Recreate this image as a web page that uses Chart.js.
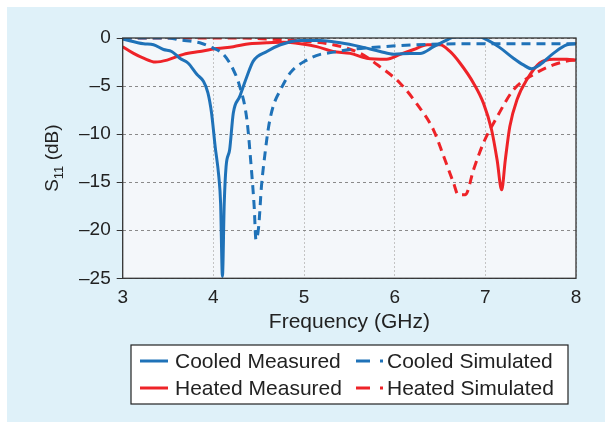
<!DOCTYPE html>
<html>
<head>
<meta charset="utf-8">
<script src="https://cdn.jsdelivr.net/npm/chart.js@4"></script>
<style>
  html, body { margin: 0; padding: 0; background: #fff; }
  #wrap { position: absolute; left: 7px; top: 7px; width: 598px; height: 415px; background: #dff1f9; }
  canvas { position: absolute; left: 0; top: 0; }
</style>
</head>
<body>
<div id="wrap"></div>
<canvas id="chart" width="605" height="422"></canvas>
<script>
"use strict";

// ---- data (frequency in GHz, S11 in dB) ----
const coolMeasF = [3.0, 3.23, 3.34, 3.45, 3.54, 3.63, 3.72, 3.82, 3.89, 3.94, 3.98, 4.02, 4.06, 4.08, 4.10, 4.12, 4.14, 4.18, 4.22, 4.29, 4.37, 4.44, 4.59, 4.74, 4.96, 5.18, 5.40, 5.62, 5.84, 5.99, 6.17, 6.28, 6.43, 6.58, 6.65, 6.80, 6.94, 7.02, 7.16, 7.31, 7.42, 7.51, 7.60, 7.75, 7.90, 8.0];
const coolMeasDb = [-0.1, -0.6, -0.7, -1.2, -1.4, -2.1, -2.6, -3.8, -4.5, -5.7, -7.8, -11.3, -14.4, -17.2, -24.8, -17.2, -13.4, -11.6, -7.8, -6.1, -4.0, -2.4, -1.4, -0.7, -0.25, -0.25, -0.5, -0.9, -1.4, -1.7, -1.6, -1.6, -0.9, -0.2, 0.1, 0.1, 0.1, -0.2, -1.0, -2.1, -2.8, -3.2, -2.8, -1.6, -0.7, -0.6];

const coolSimF = [3.0, 3.49, 3.63, 3.85, 3.96, 4.11, 4.22, 4.29, 4.37, 4.42, 4.45, 4.47, 4.50, 4.53, 4.57, 4.61, 4.66, 4.74, 4.85, 5.03, 5.18, 5.25, 5.51, 5.88, 6.24, 6.80, 8.0];
const coolSimDb = [0, 0, -0.2, -0.5, -0.9, -1.7, -3.3, -5.0, -8.5, -13.7, -17.5, -21.0, -19.6, -15.5, -12.0, -9.2, -7.1, -5.4, -3.6, -2.3, -1.7, -1.6, -1.2, -0.9, -0.7, -0.6, -0.6];

const heatMeasF = [3.0, 3.12, 3.23, 3.36, 3.49, 3.67, 3.85, 4.04, 4.22, 4.40, 4.59, 4.77, 4.96, 5.14, 5.32, 5.51, 5.69, 5.91, 6.06, 6.21, 6.36, 6.50, 6.61, 6.72, 6.87, 6.98, 7.07, 7.13, 7.18, 7.22, 7.27, 7.35, 7.46, 7.60, 7.75, 7.90, 8.0];
const heatMeasDb = [-0.9, -1.6, -2.1, -2.5, -2.3, -1.7, -1.4, -1.1, -0.9, -0.6, -0.5, -0.45, -0.6, -0.9, -1.4, -1.6, -2.1, -2.2, -1.7, -1.2, -0.7, -0.7, -1.4, -2.6, -4.7, -6.8, -9.6, -12.7, -15.8, -12.7, -9.2, -6.4, -4.3, -2.6, -2.2, -2.2, -2.3];

const heatSimF = [3.0, 4.22, 4.59, 4.96, 5.32, 5.62, 5.84, 6.06, 6.24, 6.43, 6.54, 6.65, 6.70, 6.78, 6.87, 6.98, 7.13, 7.31, 7.53, 7.75, 7.90, 8.0];
const heatSimDb = [0, 0, -0.1, -0.3, -0.7, -1.6, -3.0, -4.7, -6.8, -9.6, -12.3, -15.1, -16.3, -16.3, -13.7, -10.9, -8.2, -5.4, -3.8, -2.8, -2.4, -2.3];

const seriesLabels = ["Cooled Measured", "Cooled Simulated", "Heated Measured", "Heated Simulated"];
const xTicks = [3, 4, 5, 6, 7, 8];
const yTicks = [0, -5, -10, -15, -20, -25];

const BLUE = "#1f72b8";
const RED = "#ee2328";
const FONT = "'Liberation Sans', Arial, sans-serif";
const INK = "#222";

function pts(fs, ds) { return fs.map((f, i) => ({ x: f, y: ds[i] })); }

function line(label, data, color, dashed) {
    return {
        label, data,
        borderColor: color,
        backgroundColor: color,
        borderWidth: 3,
        borderDash: dashed ? [9, 6] : [],
        pointRadius: 0,
        tension: 0.3,
        cubicInterpolationMode: "monotone",
        fill: false
    };
}

// plot background + frame + y title + legend box
const decor = {
    id: "decor",
    beforeDraw(chart) {
        const { ctx, chartArea: a } = chart;
        ctx.save();
        ctx.fillStyle = "#f4f7fa";
        ctx.fillRect(a.left, a.top, a.right - a.left, a.bottom - a.top);
        ctx.restore();
    },
    afterDraw(chart) {
        const { ctx, chartArea: a } = chart;
        ctx.save();
        ctx.strokeStyle = "#333";
        ctx.lineWidth = 1.3;
        ctx.strokeRect(a.left, a.top, a.right - a.left, a.bottom - a.top);

        // y title with subscript
        ctx.translate(53, (a.top + a.bottom) / 2);
        ctx.rotate(-Math.PI / 2);
        ctx.fillStyle = INK;
        ctx.textBaseline = "middle";
        const big = "19px " + FONT, small = "13px " + FONT;
        ctx.font = big; const wS = ctx.measureText("S").width, wT = ctx.measureText(" (dB)").width;
        ctx.font = small; const w11 = ctx.measureText("11").width;
        let x = -(wS + w11 + wT) / 2;
        ctx.font = big; ctx.fillText("S", x, 0); x += wS;
        ctx.font = small; ctx.fillText("11", x, 6); x += w11;
        ctx.font = big; ctx.fillText(" (dB)", x, 0);
        ctx.restore();

        // legend
        ctx.save();
        const bx = 131, by = 345, bw = 437, bh = 59;
        ctx.fillStyle = "#fff";
        ctx.fillRect(bx, by, bw, bh);
        ctx.strokeStyle = INK;
        ctx.lineWidth = 1.2;
        ctx.strokeRect(bx, by, bw, bh);
        ctx.font = "21px " + FONT;
        ctx.fillStyle = INK;
        ctx.textBaseline = "middle";
        const ds = chart.data.datasets;
        const cells = [
            { d: ds[0], x: 140, y: 361 },
            { d: ds[1], x: 356, y: 361 },
            { d: ds[2], x: 140, y: 388 },
            { d: ds[3], x: 356, y: 388 }
        ];
        cells.forEach(c => {
            ctx.strokeStyle = c.d.borderColor;
            ctx.lineWidth = 3;
            ctx.beginPath();
            if (c.d.borderDash.length) {
                ctx.moveTo(c.x, c.y); ctx.lineTo(c.x + 14, c.y);
                ctx.moveTo(c.x + 24, c.y); ctx.lineTo(c.x + 27, c.y);
            } else {
                ctx.moveTo(c.x, c.y); ctx.lineTo(c.x + 28, c.y);
            }
            ctx.stroke();
            ctx.fillText(c.d.label, c.x + (c.d.borderDash.length ? 31 : 35), c.y + 1);
        });
        ctx.restore();
    }
};

new Chart(document.getElementById("chart"), {
    type: "line",
    data: {
        datasets: [
            line(seriesLabels[0], pts(coolMeasF, coolMeasDb), BLUE, false),
            line(seriesLabels[1], pts(coolSimF, coolSimDb), BLUE, true),
            line(seriesLabels[2], pts(heatMeasF, heatMeasDb), RED, false),
            line(seriesLabels[3], pts(heatSimF, heatSimDb), RED, true)
        ]
    },
    options: {
        responsive: false,
        animation: false,
        layout: { padding: { left: 0, right: 29, top: 38, bottom: 0 } },
        plugins: { legend: { display: false }, tooltip: { enabled: false } },
        scales: {
            x: {
                type: "linear",
                min: 3, max: 8,
                afterBuildTicks: s => { s.ticks = xTicks.map(v => ({ value: v })); },
                afterFit: s => { s.height = 143.7; },
                grid: { color: "#c4c4c4", tickLength: 0, drawTicks: false },
                border: { display: false, dash: [2, 2] },
                ticks: { color: INK, font: { family: FONT, size: 19 }, padding: 8 },
                title: { display: true, text: "Frequency (GHz)", color: INK, font: { family: FONT, size: 21 }, padding: { top: 0, bottom: 87 } }
            },
            y: {
                min: -25, max: 0,
                afterBuildTicks: s => { s.ticks = yTicks.map(v => ({ value: v })); },
                afterFit: s => { s.width = 122.7; },
                grid: { color: "#8a8a8a", tickColor: "#333", tickLength: 6, drawTicks: true },
                border: { display: false, dash: [3, 3] },
                ticks: {
                    color: INK, font: { family: FONT, size: 19 }, padding: 6,
                    callback: v => (v < 0 ? "\u2013" + Math.abs(v) : String(v))
                }
            }
        }
    },
    plugins: [decor]
});
</script>
</body>
</html>
